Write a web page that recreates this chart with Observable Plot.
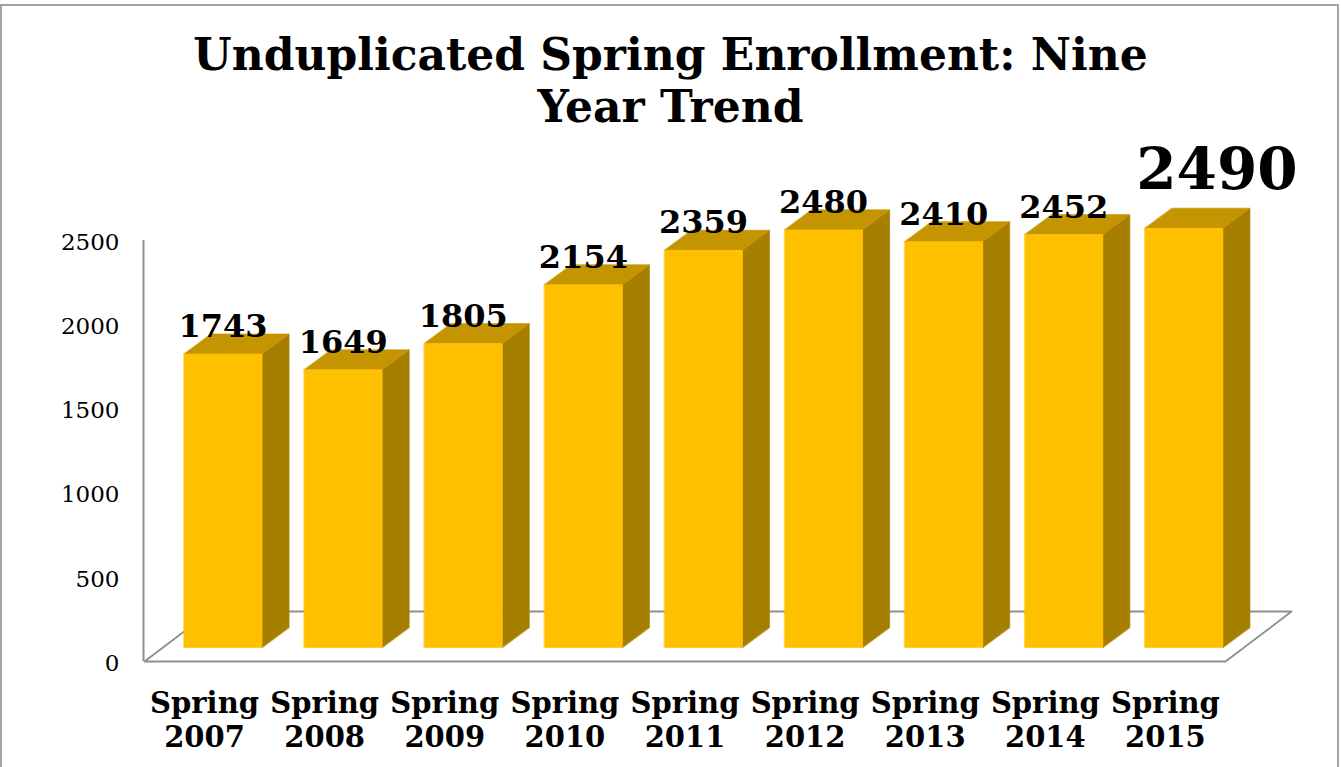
<!DOCTYPE html>
<html>
<head>
<meta charset="utf-8">
<script src="https://cdn.jsdelivr.net/npm/d3@7"></script>
<script src="https://cdn.jsdelivr.net/npm/@observablehq/plot@0.6"></script>
<style>
  html, body { margin: 0; padding: 0; background: #fff; overflow: hidden; width: 1341px; height: 767px; }
  #frame { position: absolute; left: 0; top: 4px; width: 1335px; height: 800px; border: 2px solid #a3a3a3; }
  #title { position: absolute; left: 0; top: 29px; width: 1341px; text-align: center;
           font-family: "DejaVu Serif", serif; font-weight: bold; font-size: 44px; line-height: 52px; color: #000; }
  #chart { position: absolute; left: 0; top: 140px; }
</style>
</head>
<body>
<div id="frame"></div>
<div id="title">Unduplicated Spring Enrollment: Nine<br>Year Trend</div>
<div id="chart"></div>
<script>
// ---- data ----
const categories = ["Spring 2007", "Spring 2008", "Spring 2009", "Spring 2010", "Spring 2011",
                    "Spring 2012", "Spring 2013", "Spring 2014", "Spring 2015"];
const values = [1743, 1649, 1805, 2154, 2359, 2480, 2410, 2452, 2490];
const yTicks = [0, 500, 1000, 1500, 2000, 2500];

// ---- 3D geometry (in scale units) ----
const HALF = 0.325;        // half bar width (category steps)
const FRONT_DX = 0.154;    // bar front plane offset into depth (x)
const FRONT_DY = 83;       // bar front plane offset into depth (value units)
const DEPTH_DX = 0.225;    // bar depth (x)
const DEPTH_DY = 119;      // bar depth (value units)
const FLOOR_DX = 0.55;     // floor depth (x)
const FLOOR_DY = 297;      // floor depth (value units)

const COL_FRONT = "#FFC000", COL_TOP = "#C49500", COL_SIDE = "#A67F00";
const GRAY = "#8f8f8f";
const SERIF = "DejaVu Serif";

const n = categories.length;
const bars = values.map((v, i) => ({i, v}));

const frontFaces = [], topFaces = [], sideFaces = [];
for (const {i, v} of bars) {
  const xl = i - HALF + FRONT_DX, xr = i + HALF + FRONT_DX;
  const y0 = FRONT_DY, y1 = v + FRONT_DY;
  frontFaces.push({k: i, x: xl, y: y0}, {k: i, x: xr, y: y0}, {k: i, x: xr, y: y1}, {k: i, x: xl, y: y1});
  topFaces.push({k: i, x: xl, y: y1}, {k: i, x: xr, y: y1},
           {k: i, x: xr + DEPTH_DX, y: y1 + DEPTH_DY}, {k: i, x: xl + DEPTH_DX, y: y1 + DEPTH_DY});
  sideFaces.push({k: i, x: xr, y: y0}, {k: i, x: xr, y: y1},
            {k: i, x: xr + DEPTH_DX, y: y1 + DEPTH_DY}, {k: i, x: xr + DEPTH_DX, y: y0 + DEPTH_DY});
}
const floorRows = [
  {x: -0.5, y: 0}, {x: n - 0.5, y: 0},
  {x: n - 0.5 + FLOOR_DX, y: FLOOR_DY}, {x: -0.5 + FLOOR_DX, y: FLOOR_DY}
];
const last = n - 1;

const face = (rows, color) => Plot.line(rows, {
  x: "x", y: "y", z: "k", curve: "linear-closed", fill: color, stroke: color, strokeWidth: 0.6
});

const chart = Plot.plot({
  width: 1341,
  height: 627,
  marginLeft: 144,
  marginRight: 116,
  marginTop: 100,
  marginBottom: 106,
  style: {background: "transparent", overflow: "visible"},
  x: {domain: [-0.5, n - 0.5], label: null},
  y: {domain: [0, 2500], label: null},
  marks: [
    Plot.line(floorRows, {x: "x", y: "y", curve: "linear-closed", fill: "white", stroke: GRAY, strokeWidth: 1.8}),
    Plot.ruleX([-0.5], {y1: 0, y2: 2500, stroke: GRAY, strokeWidth: 2, dx: -1}),
    face(sideFaces, COL_SIDE),
    face(topFaces, COL_TOP),
    face(frontFaces, COL_FRONT),
    Plot.axisY(yTicks, {tickSize: 0, tickPadding: 25, fontSize: 23, fontFamily: SERIF, fill: "#000", dy: 2,
      label: null, tickFormat: d => String(d)}),
    Plot.axisX(d3.range(n), {
      tickSize: 0, tickPadding: 28, fontSize: 29, fontWeight: "bold", fontFamily: SERIF, fill: "#000",
      lineHeight: 1.15, label: null, tickFormat: i => categories[i].replace(" ", "\n")
    }),
    Plot.text(bars.filter(d => d.i !== last), {
      x: d => d.i + FRONT_DX, y: d => d.v + FRONT_DY, text: d => String(d.v),
      lineAnchor: "bottom", dy: -17, fontSize: 32, fontWeight: "bold", fontFamily: SERIF, fill: "#000"
    }),
    Plot.text(bars.filter(d => d.i === last), {
      x: d => d.i + FRONT_DX, y: d => d.v + FRONT_DY, text: d => String(d.v),
      lineAnchor: "bottom", dx: 33, dy: -39, fontSize: 58, fontWeight: "bold", fontFamily: SERIF, fill: "#000"
    })
  ]
});
document.getElementById("chart").appendChild(chart);
</script>
</body>
</html>
